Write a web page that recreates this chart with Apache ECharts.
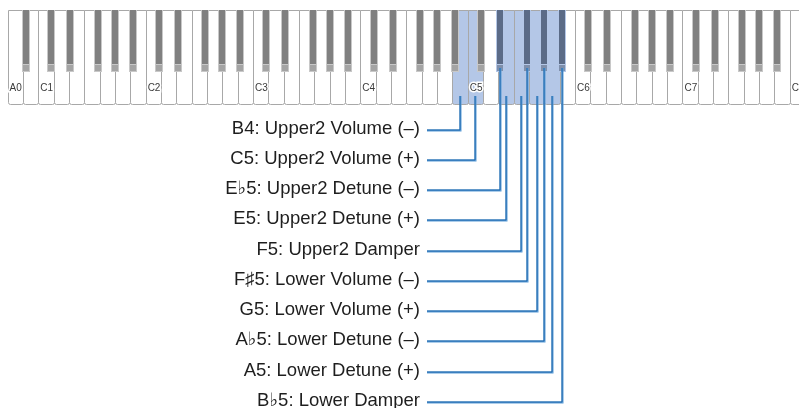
<!DOCTYPE html>
<html>
<head>
<meta charset="UTF-8">
<title>Keyboard assignments</title>
<script src="https://cdn.jsdelivr.net/npm/echarts@6/dist/echarts.min.js"></script>
<style type="text/css">
	* { margin: 0px; padding: 0px; }
	body { background: #fff; }
	#container { width: 799px; height: 408px; }
</style>
</head>
<body>
<div id="container"></div>
<script>
	// --- data ---
	var octaveLabels = ['A0', 'C1', 'C2', 'C3', 'C4', 'C5', 'C6', 'C7', 'C8'];
	var assignedKeys = ['B4', 'C5', 'Eb5', 'E5', 'F5', 'F#5', 'G5', 'Ab5', 'A5', 'Bb5'];
	var assignedTexts = [
		'B4: Upper2 Volume (–)',
		'C5: Upper2 Volume (+)',
		'E♭5: Upper2 Detune (–)',
		'E5: Upper2 Detune (+)',
		'F5: Upper2 Damper',
		'F♯5: Lower Volume (–)',
		'G5: Lower Volume (+)',
		'A♭5: Lower Detune (–)',
		'A5: Lower Detune (+)',
		'B♭5: Lower Damper'
	];

	// 88 keys, A0 .. C8
	var whiteNames = ['A0', 'B0'];
	var blackNames = ['Bb0'];
	for (var o = 1; o <= 7; o++) {
		['C', 'D', 'E', 'F', 'G', 'A', 'B'].forEach(function (n) { whiteNames.push(n + o); });
		['C#', 'Eb', 'F#', 'Ab', 'Bb'].forEach(function (n) { blackNames.push(n + o); });
	}
	whiteNames.push('C8');

	// --- layout (x in white-key units, y in pixels) ---
	var KEY_TOP = 10, KEY_BOTTOM = 103.5, BLACK_BOTTOM = 72;
	var WHITE_LINE_TOP = 96, BLACK_LINE_TOP = 68;
	var ROW0 = 129.5, ROW_GAP = 30.25;
	var LINE_LEFT = 27.35;
	var BLACK_W = 0.52;
	var nextWhite = { 'C#': 'D', 'Eb': 'E', 'F#': 'G', 'Ab': 'A', 'Bb': 'B' };
	var blackShift = { 'C#': -0.14, 'Eb': 0.1, 'F#': -0.11, 'Ab': 0, 'Bb': 0.17 };

	function splitName(k) {
		var m = k.match(/^([A-G][#b]?)(\d)$/);
		return { note: m[1], oct: m[2] };
	}
	function isBlack(k) { return splitName(k).note.length > 1; }
	function keyCenter(k) {
		var s = splitName(k);
		if (!isBlack(k)) return whiteNames.indexOf(k) + 0.5;
		return whiteNames.indexOf(nextWhite[s.note] + s.oct) + blackShift[s.note];
	}

	var FONT = '"Liberation Sans", Arial, "DejaVu Sans", sans-serif';
	var dom = document.getElementById('container');
	var myChart = echarts.init(dom);

	var option = {
		animation: false,
		grid: { left: 7.6, right: 0, top: 0, bottom: 0 },
		xAxis: { type: 'value', min: 0, max: 51.6, show: false },
		yAxis: { type: 'value', min: 0, max: 408, inverse: true, show: false },
		series: [
			{
				// white keys
				type: 'custom',
				data: whiteNames.map(function (n, i) { return [i, KEY_TOP]; }),
				renderItem: function (params, api) {
					var i = api.value(0);
					var p0 = api.coord([i, KEY_TOP]);
					var p1 = api.coord([i + 1, KEY_BOTTOM]);
					var on = assignedKeys.indexOf(whiteNames[params.dataIndex]) >= 0;
					return {
						type: 'rect',
						shape: { x: Math.round(p0[0]) + 0.5, y: Math.round(p0[1]) + 0.5,
							width: Math.round(p1[0]) - Math.round(p0[0]), height: Math.round(p1[1] - p0[1]), r: [0, 0, 2, 2] },
						style: { fill: on ? '#b4c7e7' : '#fff', stroke: '#a8a8a8', lineWidth: 1 }
					};
				}
			},
			{
				// black keys
				type: 'custom',
				data: blackNames.map(function (n) { return [keyCenter(n), KEY_TOP]; }),
				renderItem: function (params, api) {
					var c = api.value(0);
					var p0 = api.coord([c - BLACK_W / 2, KEY_TOP]);
					var p1 = api.coord([c + BLACK_W / 2, BLACK_BOTTOM]);
					var on = assignedKeys.indexOf(blackNames[params.dataIndex]) >= 0;
					var x0 = Math.round(p0[0]), x1 = Math.round(p1[0]);
					var y0 = Math.round(p0[1]), y1 = Math.round(p1[1]);
					var rim = on ? '#b4c7e7' : '#c8c8c8';
					var body = on ? '#5b6b87' : '#808080';
					var bevel = on ? '#7f8fab' : '#a4a4a4';
					return {
						type: 'group',
						children: [
							{ type: 'rect', shape: { x: x0, y: y0, width: x1 - x0, height: y1 - y0 },
								style: { fill: rim } },
							{ type: 'rect', shape: { x: x0 + 1, y: y0, width: x1 - x0 - 2, height: y1 - y0 - 8 },
								style: { fill: body } },
							{ type: 'rect', shape: { x: x0 + 1, y: y1 - 7, width: x1 - x0 - 2, height: 6 },
								style: { fill: bevel } }
						]
					};
				}
			},
			{
				// octave labels on the keys
				type: 'custom',
				data: octaveLabels.map(function (n) { return [whiteNames.indexOf(n), 88]; }),
				renderItem: function (params, api) {
					var p = api.coord([api.value(0), api.value(1)]);
					return {
						type: 'text',
						x: p[0] + 2, y: p[1],
						style: { text: octaveLabels[params.dataIndex], fontSize: 10, fontFamily: FONT,
							fill: '#3a3a3a', stroke: '#fff', lineWidth: 3, strokeFirst: true,
							align: 'left', verticalAlign: 'middle' }
					};
				}
			},
			{
				// leader lines and function names
				type: 'custom',
				data: assignedKeys.map(function (k, i) { return [keyCenter(k), ROW0 + i * ROW_GAP]; }),
				renderItem: function (params, api) {
					var k = assignedKeys[params.dataIndex];
					var x = api.value(0), y = api.value(1);
					var top = api.coord([x, isBlack(k) ? BLACK_LINE_TOP : WHITE_LINE_TOP]);
					var corner = api.coord([x, y]);
					var left = api.coord([LINE_LEFT, y]);
					var cx = Math.round(corner[0]), cy = Math.round(corner[1]);
					var lx = Math.round(left[0]);
					return {
						type: 'group',
						children: [
							{ type: 'polyline', shape: { points: [[cx + 0.5, top[1]], [cx + 0.5, cy + 0.5], [lx, cy + 0.5]] },
								style: { fill: null, stroke: '#5b9bd5', lineWidth: 2 } },
							{ type: 'polyline', shape: { points: [[cx, top[1]], [cx, cy], [lx, cy]] },
								style: { fill: null, stroke: '#1a64aa', lineWidth: 1 } },
							{ type: 'text', x: lx - 7, y: cy - 1,
								style: { text: assignedTexts[params.dataIndex], fontSize: 18.5, fontFamily: FONT,
									fill: '#1e1e1e', align: 'right', verticalAlign: 'middle' } }
						]
					};
				}
			}
		]
	};
	myChart.setOption(option);
</script>
</body>
</html>
